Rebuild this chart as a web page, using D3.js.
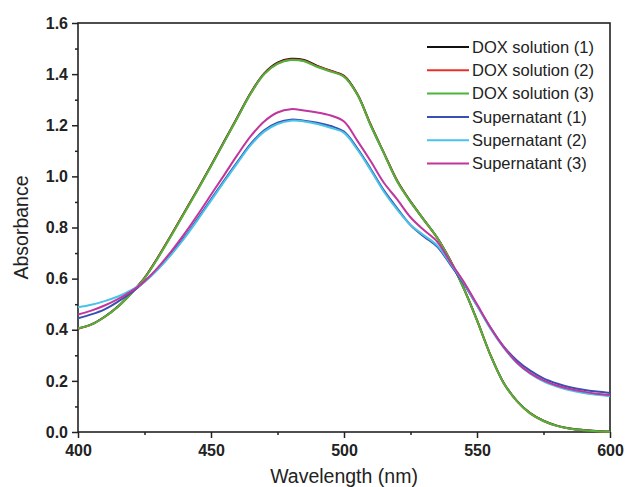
<!DOCTYPE html>
<html><head><meta charset="utf-8">
<script src="https://cdn.jsdelivr.net/npm/d3@7"></script>
<style>body{margin:0;background:#fff}svg{display:block}</style>
</head><body>
<svg id="c" width="628" height="487"></svg>
<script>
const wavelengths = [400,405,410,415,420,425,430,435,440,445,450,455,460,465,470,475,480,485,490,495,500,505,510,515,520,525,530,535,540,545,550,555,560,565,570,575,580,585,590,595,600];
const dox1 = [0.405,0.421,0.451,0.491,0.543,0.603,0.683,0.770,0.860,0.950,1.043,1.138,1.233,1.328,1.403,1.445,1.460,1.455,1.432,1.413,1.393,1.322,1.203,1.092,0.983,0.902,0.831,0.761,0.671,0.563,0.438,0.303,0.193,0.122,0.074,0.044,0.025,0.014,0.008,0.004,0.002];
const dox2 = [0.404,0.420,0.450,0.490,0.542,0.602,0.682,0.769,0.859,0.949,1.041,1.136,1.231,1.326,1.401,1.442,1.457,1.452,1.430,1.412,1.392,1.321,1.202,1.091,0.982,0.901,0.830,0.760,0.670,0.562,0.437,0.302,0.192,0.121,0.073,0.043,0.024,0.013,0.007,0.003,0.001];
const dox3 = [0.406,0.420,0.450,0.490,0.542,0.601,0.680,0.767,0.857,0.947,1.040,1.135,1.230,1.325,1.400,1.440,1.455,1.450,1.428,1.410,1.390,1.320,1.200,1.090,0.980,0.900,0.830,0.760,0.670,0.562,0.437,0.302,0.192,0.121,0.073,0.043,0.024,0.013,0.007,0.003,0.001];
const sup1 = [0.445,0.460,0.480,0.510,0.545,0.588,0.638,0.697,0.762,0.835,0.910,0.985,1.058,1.128,1.180,1.210,1.222,1.218,1.210,1.197,1.175,1.110,1.030,0.945,0.875,0.810,0.765,0.725,0.655,0.580,0.495,0.410,0.335,0.280,0.240,0.210,0.190,0.175,0.165,0.158,0.153];
const sup2 = [0.488,0.498,0.512,0.530,0.555,0.588,0.636,0.693,0.758,0.830,0.905,0.980,1.053,1.123,1.175,1.205,1.218,1.215,1.205,1.190,1.170,1.105,1.025,0.940,0.870,0.810,0.770,0.730,0.660,0.585,0.495,0.405,0.330,0.270,0.228,0.198,0.178,0.163,0.153,0.146,0.140];
const sup3 = [0.460,0.475,0.495,0.520,0.550,0.590,0.643,0.706,0.775,0.850,0.928,1.006,1.085,1.158,1.215,1.250,1.263,1.258,1.250,1.238,1.215,1.140,1.060,0.975,0.910,0.840,0.790,0.745,0.665,0.588,0.500,0.410,0.333,0.272,0.230,0.202,0.182,0.168,0.158,0.150,0.145];
const seriesNames = ["DOX solution (1)","DOX solution (2)","DOX solution (3)","Supernatant (1)","Supernatant (2)","Supernatant (3)"];
const seriesColors = ["#111111","#e8302a","#4cb43a","#3a4fb0","#49c3e8","#c0359e"];
const xTicks = [400,450,500,550,600];
const yTicks = [0.0,0.2,0.4,0.6,0.8,1.0,1.2,1.4,1.6];
const xLabel = "Wavelength (nm)";
const yLabel = "Absorbance";

const allSeries = [dox1,dox2,dox3,sup1,sup2,sup3];
const svg = d3.select("#c");
const L=78, R=610, T=23, B=432;
const x = d3.scaleLinear().domain([400,600]).range([L,R]);
const y = d3.scaleLinear().domain([0,1.6]).range([B,T]);
const font = "'Liberation Sans', Arial, sans-serif";

const gx = svg.append("g").attr("transform",`translate(0,${B})`)
  .call(d3.axisBottom(x).tickValues(d3.range(425,600,50)).tickSize(3).tickFormat(""));
const gy = svg.append("g").attr("transform",`translate(${L},0)`)
  .call(d3.axisLeft(y).tickValues(d3.range(0.1,1.6,0.2)).tickSize(3).tickFormat(""));
const gx2 = svg.append("g").attr("transform",`translate(0,${B})`)
  .call(d3.axisBottom(x).tickValues(xTicks).tickSize(6).tickPadding(4).tickFormat(d3.format("d")));
const gy2 = svg.append("g").attr("transform",`translate(${L},0)`)
  .call(d3.axisLeft(y).tickValues(yTicks).tickSize(6).tickPadding(4).tickFormat(d3.format(".1f")));
[gx,gy,gx2,gy2].forEach(g=>{
  g.select(".domain").remove();
  g.selectAll("line").attr("stroke","#222").attr("stroke-width",1.5);
  g.selectAll("text").attr("font-family",font).attr("font-weight","bold").attr("font-size",16).attr("fill","#222");
});
gx2.selectAll("text").attr("dy","0.85em");
svg.append("rect").attr("x",L).attr("y",T).attr("width",R-L).attr("height",B-T)
  .attr("fill","none").attr("stroke","#222").attr("stroke-width",1.6);

const line = d3.line().curve(d3.curveCatmullRom).x((d,i)=>x(wavelengths[i])).y(d=>y(d));
allSeries.forEach((s,i)=>{
  svg.append("path").datum(s).attr("d",line).attr("fill","none")
    .attr("stroke",seriesColors[i]).attr("stroke-width",2);
});

const lg = svg.append("g");
seriesNames.forEach((n,i)=>{
  const yy = 47 + i*23.3;
  lg.append("line").attr("x1",427).attr("x2",469).attr("y1",yy).attr("y2",yy)
    .attr("stroke",seriesColors[i]).attr("stroke-width",2);
  lg.append("text").attr("x",472).attr("y",yy).attr("dy","0.35em")
    .attr("font-family",font).attr("font-size",16.5).attr("fill","#222").text(n);
});

svg.append("text").attr("x",(L+R)/2).attr("y",483).attr("text-anchor","middle")
  .attr("font-family",font).attr("font-size",19.5).attr("fill","#222").text(xLabel);
svg.append("text").attr("transform",`translate(28,${(T+B)/2}) rotate(-90)`).attr("text-anchor","middle")
  .attr("font-family",font).attr("font-size",19.5).attr("fill","#222").text(yLabel);
</script>
</body></html>
